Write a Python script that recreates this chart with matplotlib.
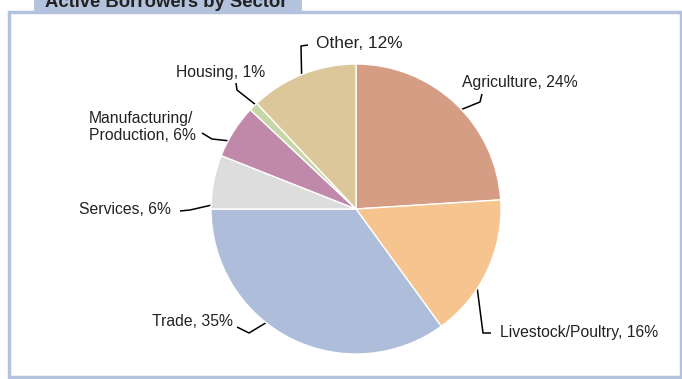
import matplotlib
matplotlib.use("Agg")
import matplotlib.pyplot as plt
import numpy as np
from matplotlib.patches import Rectangle

plt.rcParams['font.family'] = ['Liberation Sans', 'DejaVu Sans']

# sector shares, clockwise from 12 o'clock
sectors = ['Agriculture', 'Livestock/Poultry', 'Trade', 'Services',
           'Manufacturing/\nProduction', 'Housing', 'Other']
shares = [24, 16, 35, 6, 6, 1, 12]
colors = ['#d59d83', '#f5c48f', '#aebdd9', '#dddddd',
          '#c089aa', '#c6d6a4', '#dcc79a']

# label layout in figure pixels (origin top-left)
label_pos = [(462, 82), (500, 333), (233, 322), (171, 210),
             (196, 127), (265, 72), (316, 44)]
label_ha = ['left', 'left', 'right', 'right', 'right', 'right', 'left']
label_size = [11.3, 11.3, 11.3, 11.3, 11.3, 11.3, 12.4]
# where along each wedge's arc the leader touches (0 = ccw start)
leader_frac = [0.46, 0.36, 0.41, 0.93, 0.70, 0.20, 0.51]
leader_knees = [
    [(480, 102), (482, 94)],
    [(483, 333), (491, 333)],
    [(249, 333), (237, 327)],
    [(190, 210), (180, 211)],
    [(212, 139), (202, 133)],
    [(237, 90), (236, 83)],
    [(301, 46), (308, 45)],
]

W, H = 682, 379
cx, cy, R = 356, 209, 145
frame_col = '#b3c2dd'
text_col = '#222222'

fig = plt.figure(figsize=(W / 100, H / 100), dpi=100)

# pixel-space overlay for the frame, title tab and leaders
ov = fig.add_axes([0, 0, 1, 1])
ov.set_xlim(0, W)
ov.set_ylim(H, 0)
ov.axis('off')

ov.add_patch(Rectangle((9, 12), 672, 365, fill=False,
                       edgecolor=frame_col, linewidth=2.5))
ov.add_patch(Rectangle((34, -2), 268, 14, facecolor=frame_col,
                       edgecolor='none'))
ov.text(45, 7, 'Active Borrowers by Sector', fontsize=13.3,
        fontweight='bold', color=text_col, ha='left', va='baseline')

# pie
ax = fig.add_axes([(cx - R) / W, (H - cy - R) / H, 2 * R / W, 2 * R / H])
wedges, _ = ax.pie(shares, colors=colors, startangle=90, counterclock=False,
                   radius=1, wedgeprops=dict(edgecolor='white', linewidth=1))
ax.set_xlim(-1, 1)
ax.set_ylim(-1, 1)
ax.set_aspect('equal')
ax.axis('off')

to_ov = ax.transData + ov.transData.inverted()
for wdg, name, val, pos, ha, fs, frac, knees in zip(
        wedges, sectors, shares, label_pos, label_ha, label_size,
        leader_frac, leader_knees):
    ang = np.deg2rad(wdg.theta1 + frac * (wdg.theta2 - wdg.theta1))
    start = to_ov.transform((np.cos(ang), np.sin(ang)))
    pts = np.vstack([start, knees])
    ov.plot(pts[:, 0], pts[:, 1], color='black', linewidth=1.1,
            solid_capstyle='butt', zorder=5)
    ov.text(pos[0], pos[1], f'{name}, {val}%', fontsize=fs, color=text_col,
            ha=ha, va='center', multialignment='left', linespacing=1.15)

fig.savefig('out.png', dpi=100)
